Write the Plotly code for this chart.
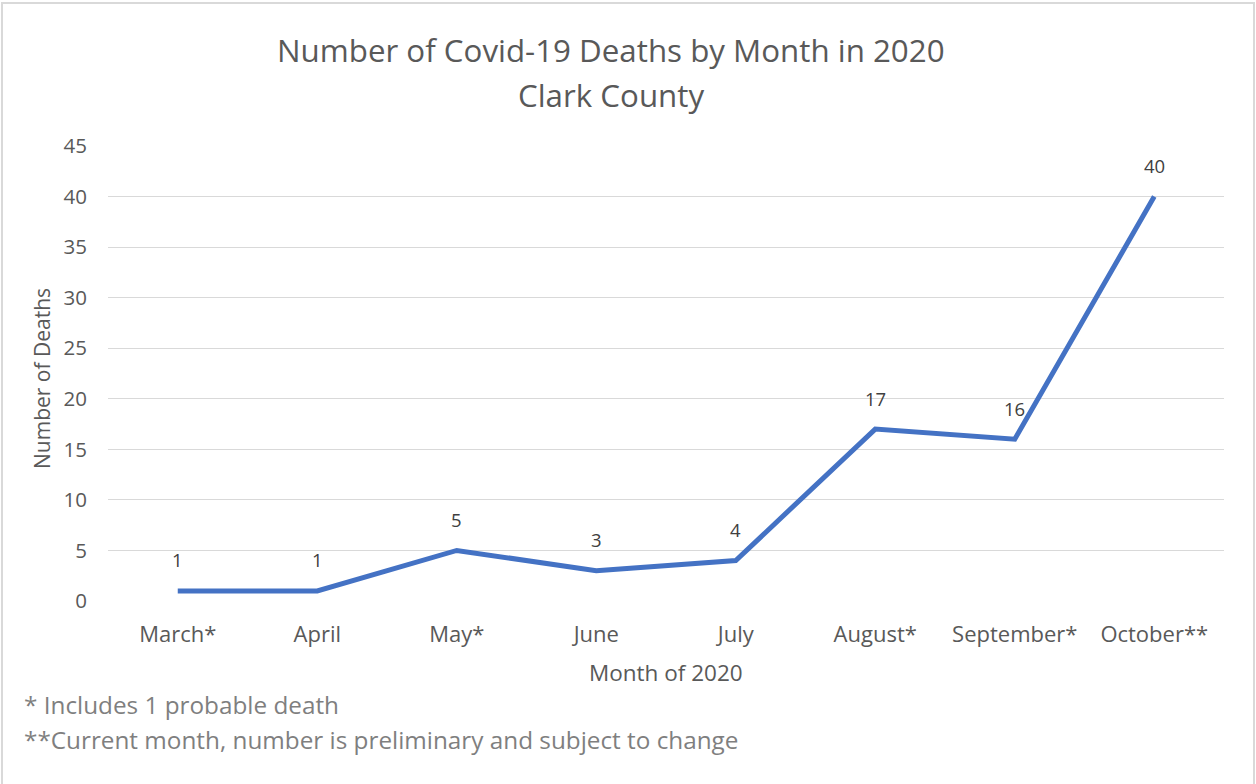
import plotly.graph_objects as go

months = ["March*", "April", "May*", "June", "July", "August*", "September*", "October**"]
deaths = [1, 1, 5, 3, 4, 17, 16, 40]
y_ticks = [0, 5, 10, 15, 20, 25, 30, 35, 40, 45]

W, H = 1256, 784
L, R, T, B = 108, 1224, 146, 601
FONT = "Open Sans"

def px(x):
    return (x - L) / (R - L)

def py(y):
    return (B - y) / (B - T)

fig = go.Figure()
fig.add_trace(go.Scatter(
    x=list(range(len(months))), y=deaths, mode="lines",
    line=dict(color="#4472C4", width=5), hoverinfo="skip", showlegend=False,
))

for i, v in enumerate(deaths):
    fig.add_annotation(x=i, y=v, text=str(v), showarrow=False, yshift=31,
                       font=dict(family=FONT, size=18.5, color="#404040"))

ann_common = dict(xref="paper", yref="paper", showarrow=False)
fig.add_annotation(x=px(611), y=py(50), text="Number of Covid-19 Deaths by Month in 2020",
                   xanchor="center", yanchor="middle",
                   font=dict(family=FONT, size=31.3, color="#595959"), **ann_common)
fig.add_annotation(x=px(611), y=py(95), text="Clark County",
                   xanchor="center", yanchor="middle",
                   font=dict(family=FONT, size=31.3, color="#595959"), **ann_common)
fig.add_annotation(x=px(666), y=py(672), text="Month of 2020",
                   xanchor="center", yanchor="middle",
                   font=dict(family=FONT, size=22.5, color="#595959"), **ann_common)
fig.add_annotation(x=px(42), y=py(379), text="Number of Deaths", textangle=-90,
                   xanchor="center", yanchor="middle",
                   font=dict(family=FONT, size=21, color="#595959"), **ann_common)
fig.add_annotation(x=px(22), y=py(704), text="* Includes 1 probable death",
                   xanchor="left", yanchor="middle",
                   font=dict(family=FONT, size=24.3, color="#7f7f7f"), **ann_common)
fig.add_annotation(x=px(22), y=py(739), text="**Current month, number is preliminary and subject to change",
                   xanchor="left", yanchor="middle",
                   font=dict(family=FONT, size=24.3, color="#7f7f7f"), **ann_common)

fig.add_shape(type="rect", xref="paper", yref="paper",
              x0=px(2), x1=px(1254), y0=py(3), y1=py(790),
              line=dict(color="#d9d9d9", width=2), layer="below")

fig.update_layout(
    width=W, height=H,
    margin=dict(l=L, r=W - R, t=T, b=H - B),
    paper_bgcolor="white", plot_bgcolor="white",
    showlegend=False,
    xaxis=dict(
        tickmode="array", tickvals=list(range(len(months))), ticktext=months,
        range=[-0.5, len(months) - 0.5], showgrid=False, zeroline=False,
        showline=False, ticks="", ticklabelstandoff=18,
        tickfont=dict(family=FONT, size=22, color="#595959"),
    ),
    yaxis=dict(
        range=[0, 45], tickmode="array", tickvals=y_ticks,
        showgrid=True, gridcolor="#d9d9d9", gridwidth=1.3,
        zeroline=False, showline=False, ticks="", ticklabelstandoff=20,
        tickfont=dict(family=FONT, size=20.5, color="#595959"),
    ),
)

fig.write_html("out.html")
